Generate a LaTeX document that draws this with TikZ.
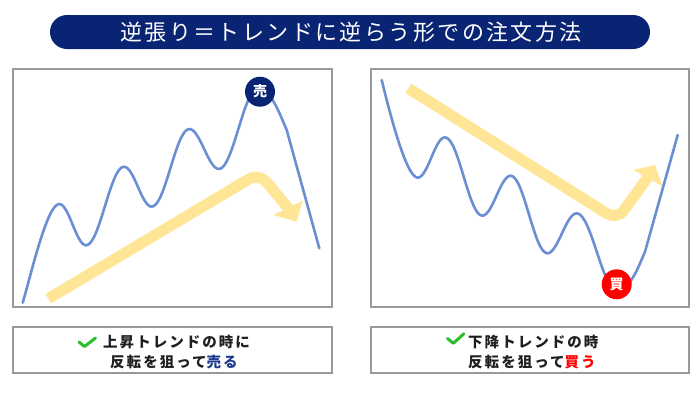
\documentclass[tikz,border=0pt]{standalone}
\usepackage{fontspec}
\newfontfamily\cjk{Noto Sans CJK JP}
\newfontfamily\cjksp{Noto Sans CJK JP}[LetterSpace=14]
\newfontfamily\cjktitle{Noto Sans CJK JP}[LetterSpace=11]
\definecolor{navy}{HTML}{0A2474}
\definecolor{navytext}{HTML}{1B3A8E}
\definecolor{curveblue}{HTML}{6A8FD3}
\definecolor{arrowyellow}{HTML}{FFE697}
\definecolor{panelgray}{HTML}{999999}
\definecolor{checkgreen}{HTML}{2DBE2D}
\definecolor{buyred}{HTML}{FF0000}
\tikzset{
  panel/.style={draw=panelgray, line width=2pt, fill=white, inner sep=0pt},
  curve/.style={draw=curveblue, line width=2.6pt, line cap=round, line join=round},
  trendarrow/.style={draw=arrowyellow, line width=11pt, rounded corners=12pt},
  trendhead/.style={fill=arrowyellow},
  badge/.style={circle, minimum size=30pt, inner sep=0pt, text=white, font=\cjk\bfseries\fontsize{14}{14}\selectfont},
  checkmark/.style={draw=checkgreen, line width=3pt, line cap=round, line join=round},
  caption/.style={anchor=west, inner sep=0pt, font=\cjksp\bfseries\fontsize{14.5}{16}\selectfont, text=black!88}
}
\begin{document}
\begin{tikzpicture}[x=1pt,y=-1pt]
\useasboundingbox (0,0) rectangle (700,394);
\fill[white] (0,0) rectangle (700,394);

% title banner
\node[fill=navy, rounded corners=17pt, minimum width=600pt, minimum height=34pt, inner sep=0pt,
      text=white, font=\cjktitle\fontsize{22}{24}\selectfont] (title) at (350,32)
      {\hspace{2pt}逆張り＝トレンドに逆らう形での注文方法};

% panels
\node[panel, minimum width=319pt, minimum height=238pt] (lp) at (172.5,188) {};
\node[panel, minimum width=318pt, minimum height=238pt] (rp) at (530,188) {};

% left yellow arrow
\draw[trendarrow] (48.3,298.7) -- (259,173) -- (289,209);
\fill[trendhead] (273.3,215) -- (296.7,221.7) -- (302.7,200.7) -- cycle;

% right yellow arrow
\draw[trendarrow] (408.3,88.3) -- (617,220) -- (648,177);
\fill[trendhead] (633.3,170) -- (655,165) -- (662.3,186) -- cycle;

% left curve (uptrend)
\draw[curve] (22.7,302.7) .. controls (31,275) and (47,204) .. (59.3,204)
  .. controls (69,204) and (76.3,245.3) .. (86,245.3)
  .. controls (99.8,245.3) and (110.2,166.7) .. (124,166.7)
  .. controls (134,166.7) and (141.7,206.7) .. (151.7,206.7)
  .. controls (165.4,206.7) and (175.6,129) .. (189.3,129)
  .. controls (200.1,129) and (208.2,169) .. (219,169)
  .. controls (233,169) and (244,88) .. (258,88)
  .. controls (270,88) and (279,112) .. (286.7,130)
  -- (319.3,248.3);

% right curve (downtrend)
\draw[curve] (381.7,80) .. controls (386,97) and (405,177.7) .. (417.7,177.7)
  .. controls (427.7,177.7) and (435,137.3) .. (445,137.3)
  .. controls (458.6,137.3) and (468.7,215.7) .. (482.3,215.7)
  .. controls (492.6,215.7) and (500.4,175.7) .. (510.7,175.7)
  .. controls (524,175.7) and (534,253.3) .. (547.3,253.3)
  .. controls (558,253.3) and (566,213.3) .. (576.7,213.3)
  .. controls (591.2,213.3) and (602.2,290) .. (616.7,290)
  .. controls (630,290) and (638,268) .. (645,251.7)
  -- (677.7,135);

% badges
\node[badge, fill=navy] (sell) at (260,91.7) {売};
\node[badge, fill=buyred] (buy) at (616.7,284.3) {買};

% caption boxes
\node[panel, minimum width=319pt, minimum height=46pt] (lb) at (172.5,350) {};
\node[panel, minimum width=318pt, minimum height=46pt] (rb) at (530,350) {};

\draw[checkmark] (79,342) -- (84.5,346.5) -- (95.5,338);
\draw[checkmark] (447.5,338.5) -- (453.3,343.3) -- (463.8,333.8);

\node[caption] (l1) at (103,342) {上昇トレンドの時に};
\node[caption] (l2) at (110,361.7) {反転を狙って\textcolor{navytext}{売る}};
\node[caption] (r1) at (468,342) {下降トレンドの時};
\node[caption] (r2) at (468,361.7) {反転を狙って\textcolor{buyred}{買う}};
\end{tikzpicture}
\end{document}
